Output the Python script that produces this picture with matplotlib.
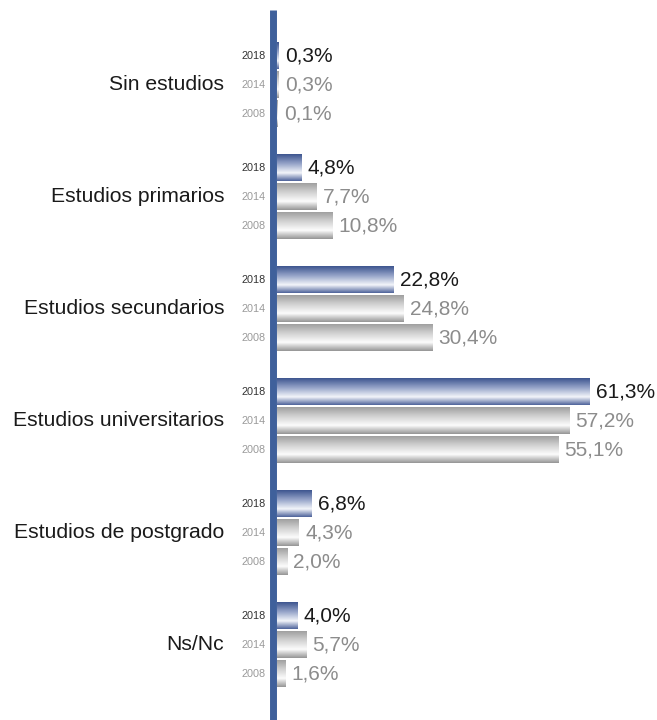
import numpy as np
import matplotlib
matplotlib.use("Agg")
import matplotlib.pyplot as plt
from matplotlib.colors import LinearSegmentedColormap

categories = ["Sin estudios", "Estudios primarios", "Estudios secundarios",
              "Estudios universitarios", "Estudios de postgrado", "Ns/Nc"]
years = ["2018", "2014", "2008"]
v2018 = [0.3, 4.8, 22.8, 61.3, 6.8, 4.0]
v2014 = [0.3, 7.7, 24.8, 57.2, 4.3, 5.7]
v2008 = [0.1, 10.8, 30.4, 55.1, 2.0, 1.6]
series = [v2018, v2014, v2008]

plt.rcParams['font.family'] = ['Liberation Sans', 'DejaVu Sans']

W, H = 657, 720
fig = plt.figure(figsize=(W / 100, H / 100), dpi=100)
x0 = 277
scale = 5.106  # px per percent
ax = fig.add_axes([x0 / W, 0, 1 - x0 / W, 1])
ax.set_xlim(0, (W - x0) / scale)
ax.set_ylim(H, 0)
ax.axis('off')

blue_cmap = LinearSegmentedColormap.from_list(
    "b", [(0.0, "#3e5690"), (0.35, "#95a3c8"), (0.7, "#f3f5fa"), (1.0, "#50659c")])
gray_cmap = LinearSegmentedColormap.from_list(
    "g", [(0.0, "#a0a0a0"), (0.35, "#d3d3d3"), (0.68, "#fcfcfc"), (1.0, "#969696")])
grad = np.linspace(0, 1, 64).reshape(-1, 1)

group_top = 56
group_pitch = 112
bar_pitch = 29
bar_h = 27

val_colors = ["#1a1a1a", "#8c8c8c", "#8c8c8c"]
year_colors = ["#333333", "#9a9a9a", "#9a9a9a"]

for g, cat in enumerate(categories):
    for k, vals in enumerate(series):
        v = vals[g]
        yc = group_top + g * group_pitch + k * bar_pitch
        cmap = blue_cmap if k == 0 else gray_cmap
        ax.imshow(grad, extent=[0, v, yc + bar_h / 2, yc - bar_h / 2],
                  aspect='auto', cmap=cmap, interpolation='bilinear', zorder=2)
        ax.annotate(f"{v:.1f}%".replace(".", ","), xy=(v, yc), xytext=(4.5, 0),
                    textcoords='offset points', ha='left', va='center',
                    fontsize=15, color=val_colors[k])
        ax.annotate(years[k], xy=(0, yc), xytext=(-8, 0),
                    textcoords='offset points', ha='right', va='center',
                    fontsize=7.8, color=year_colors[k])
    ax.annotate(cat, xy=(0, group_top + g * group_pitch + bar_pitch), xytext=(-38, 0),
                textcoords='offset points', ha='right', va='center',
                fontsize=15.2, color="#1a1a1a")

ax.set_xlim(0, (W - x0) / scale)
ax.set_ylim(H, 0)
ax.plot([-0.69, -0.69], [10, H], color="#3f609b", lw=5, solid_capstyle='butt',
        clip_on=False, zorder=3)

fig.savefig("out.png", dpi=100)
